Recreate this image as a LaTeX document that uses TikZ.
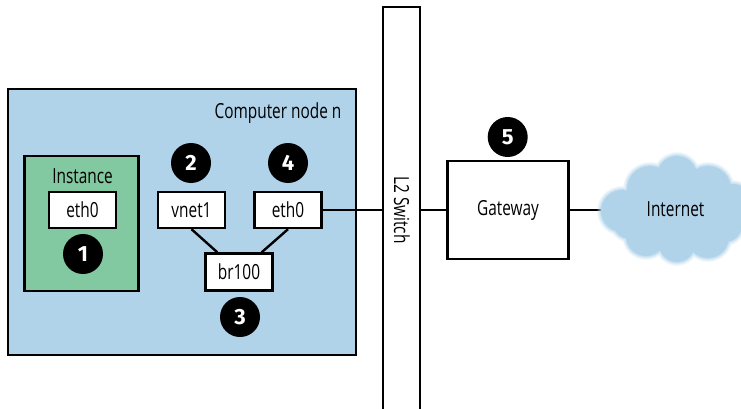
\documentclass[tikz,border=0pt]{standalone}
\usepackage{fontspec}
\setmainfont[FakeStretch=0.74]{Open Sans}
\newfontfamily\numfont{Fira Sans}
\definecolor{nodeblue}{HTML}{B0D3EA}
\definecolor{instgreen}{HTML}{82C8A0}
\tikzset{
  box/.style={draw=black,line width=2.4pt,rectangle,inner sep=0pt,font=\fontsize{20.8}{24}\selectfont,text=black},
  port/.style={box,fill=white,minimum width=67pt,minimum height=36pt},
  badge/.style={circle,fill=black,text=white,minimum size=40pt,inner sep=0pt,font=\numfont\bfseries\fontsize{22}{24}\selectfont},
  wire/.style={draw=black,line width=2.4pt},
  plain/.style={font=\fontsize{20.8}{24}\selectfont,text=black,inner sep=0pt},
}
\begin{document}
\begin{tikzpicture}[x=1pt,y=-1pt]
\useasboundingbox (0,0) rectangle (741,409);
\clip (0,0) rectangle (741,409);
\node[box,fill=nodeblue,minimum width=348pt,minimum height=266pt] (comp) at (182,222) {};
\node[plain] (complabel) at (278,113) {Computer node n};
\node[box,fill=instgreen,minimum width=114pt,minimum height=135pt] (inst) at (81.5,223.5) {};
\node[plain] (instlabel) at (82.5,176) {Instance};
\node[port] (ieth) at (82.5,210) {eth0};
\node[badge] (b1) at (83,254) {1};
\node[port] (vnet) at (191.5,210) {vnet1};
\node[badge] (b2) at (191,163) {2};
\node[port] (eth) at (288,210) {eth0};
\node[badge] (b4) at (288,163) {4};
\node[port,minimum height=37pt] (br) at (239,272) {br100};
\node[badge] (b3) at (240,317) {3};
\draw[wire] (vnet.south) -- ([xshift=13pt]br.north west);
\draw[wire] (eth.south) -- ([xshift=-12pt]br.north east);
\node[box,fill=white,minimum width=37.5pt,minimum height=420pt] (sw) at (401.5,217) {};
\node[plain,rotate=-90] (swlabel) at (402,210) {L2 Switch};
\node[box,fill=white,minimum width=121pt,minimum height=98pt] (gw) at (508,210) {Gateway};
\node[badge] (b5) at (507.7,137) {5};
\coordinate (swl) at (sw.west |- eth.east);
\coordinate (swr) at (sw.east |- gw.west);
\draw[wire] (eth.east) -- (swl);
\draw[wire] (swr) -- (gw.west);
\node[inner sep=0pt,minimum width=130pt,minimum height=20pt] (net) at (675,210) {};
\draw[wire] (gw.east) -- (net.west);
\foreach \w/\o in {8/0.16,6/0.2,4/0.28,2/0.4,0/1}{
\begin{scope}[transparency group,opacity=\o]
\fill[nodeblue] foreach \cx/\cy/\r in {
  622/211/22,650/189/24,677/176/21,708/189/24,732/208/25,
  646/236/21,677/244/19,708/237/22,675/210/44,630/222/18,725/225/18}
  {(\cx,\cy) circle[radius=\r+\w/2-1]};
\end{scope}}
\node[plain] (nettext) at (675.5,209.5) {Internet};
\end{tikzpicture}
\end{document}
